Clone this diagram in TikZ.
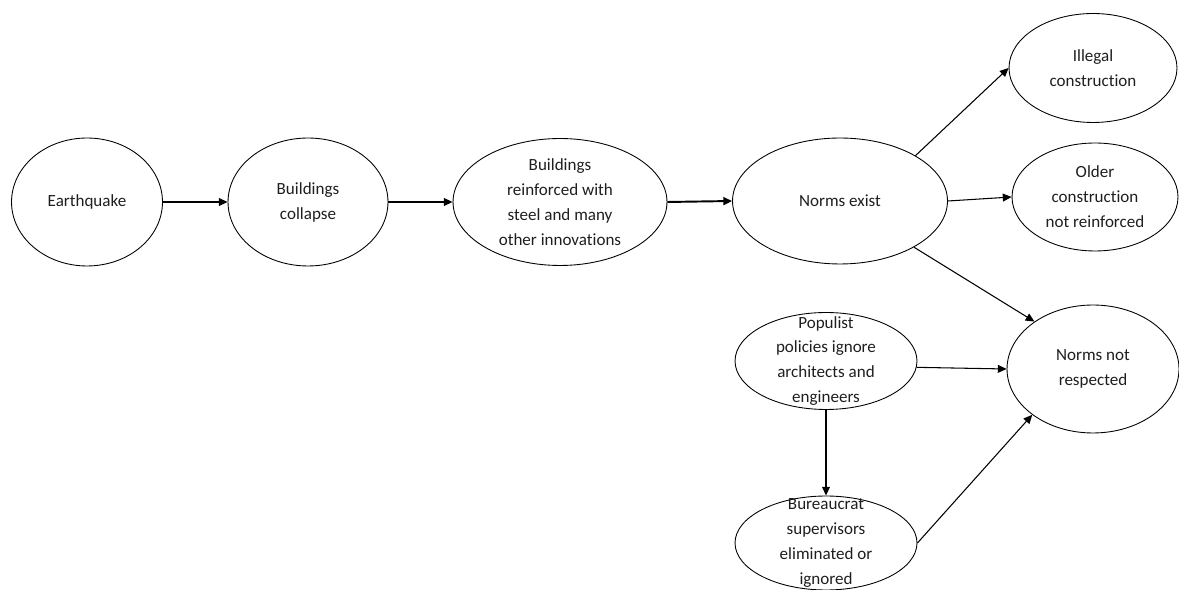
\documentclass[tikz,border=0pt]{standalone}
\usepackage{fontspec}
\setmainfont{Carlito}[Ligatures=NoCommon]
\usepackage{tikz}
\usetikzlibrary{shapes.geometric, arrows.meta}
\definecolor{textgray}{RGB}{30,30,30}

\begin{document}
\begin{tikzpicture}[x=0.02cm, y=-0.02cm,
    ell/.style={ellipse, draw, line width=0.5pt, inner xsep=0pt, inner ysep=-4pt, align=center, text=textgray, font=\fontsize{9.7}{14.2}\selectfont},
    tight/.style={inner ysep=-10pt},
    arr/.style={-{Triangle[length=5pt, width=4.5pt]}, line width=0.6pt}]
    \useasboundingbox (0, 0) rectangle (1179, 590);

    % Main chain
    \node[ell, minimum width=3.02cm, minimum height=2.56cm] (quake) at (87, 202) {Earthquake};
    \node[ell, minimum width=3.2cm, minimum height=2.56cm] (collapse) at (308, 202) {Buildings\\collapse};
    \node[ell, minimum width=4.28cm, minimum height=2.54cm] (reinforced) at (560, 202) {Buildings\\reinforced with\\steel and many\\other innovations};
    \node[ell, minimum width=4.3cm, minimum height=2.52cm] (exist) at (840, 201) {Norms exist};

    % Right column
    \node[ell, minimum width=3.36cm, minimum height=2.18cm] (illegal) at (1093, 68) {Illegal\\construction};
    \node[ell, minimum width=3.32cm, minimum height=2.16cm] (older) at (1095, 197) {Older\\construction\\not reinforced};
    \node[ell, minimum width=3.44cm, minimum height=2.56cm] (notresp) at (1093, 369) {Norms not\\respected};

    % Causes below
    \node[ell, tight, minimum width=3.64cm, minimum height=1.94cm] (populist) at (826, 361) {Populist\\policies ignore\\architects and\\engineers};
    \node[ell, tight, minimum width=3.64cm, minimum height=1.88cm] (bureau) at (826, 543) {Bureaucrat\\supervisors\\eliminated or\\ignored};

    % Arrows
    \draw[arr] (quake) -- (collapse);
    \draw[arr] (collapse) -- (reinforced);
    \draw[arr, line width=1.1pt] (reinforced.east) -- (exist.west);
    \draw[arr] (exist.31) -- (illegal.west);
    \draw[arr] (exist.east) -- (older.west);
    \draw[arr] (exist.-32) -- (notresp.141);
    \draw[arr] (populist.-4) -- (notresp.west);
    \draw[arr] (populist.south) -- (bureau.north);
    \draw[arr] (bureau.east) -- (notresp.217);
\end{tikzpicture}
\end{document}
